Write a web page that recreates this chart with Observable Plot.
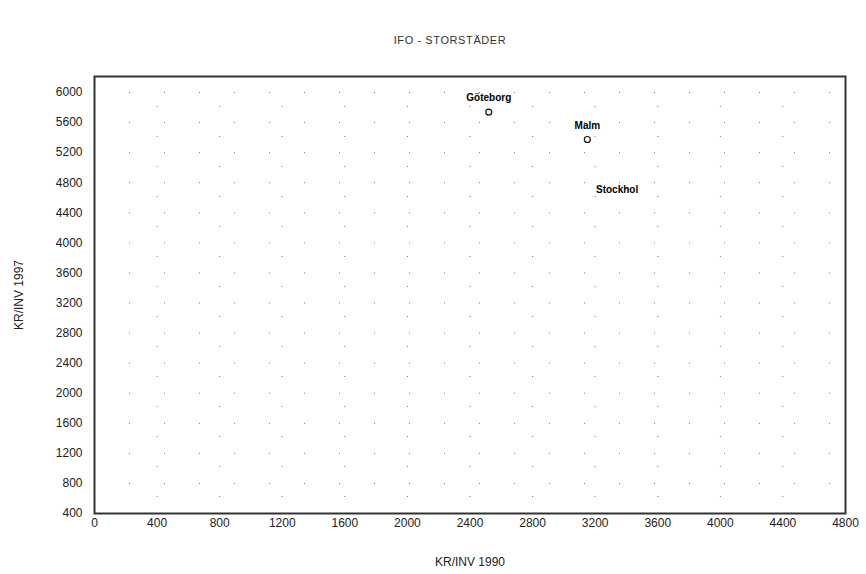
<!DOCTYPE html>
<html>
<head>
<meta charset="utf-8">
<script src="https://cdn.jsdelivr.net/npm/d3@7"></script>
<script src="https://cdn.jsdelivr.net/npm/@observablehq/plot@0.6"></script>
<style>
  body { margin: 0; background: #fff; font-family: "Liberation Sans", Arial, sans-serif; }
  #title { height: 60px; width: 866px; text-align: center; box-sizing: border-box; padding-top: 33px; padding-left: 34px;
           font-size: 11px; letter-spacing: 0.6px; color: #333; line-height: 14px; }
</style>
</head>
<body>
<div id="title">IFO - STORSTÄDER</div>
<div id="chart"></div>
<script>
const cities = ["Göteborg", "Malm", "Stockhol"];
const kr1990 = [2520, 3150, 3340];
const kr1997 = [5740, 5375, 4520];
const showMarker = [true, true, false];
const xTicks = [0, 400, 800, 1200, 1600, 2000, 2400, 2800, 3200, 3600, 4000, 4400, 4800];
const yTicks = [400, 800, 1200, 1600, 2000, 2400, 2800, 3200, 3600, 4000, 4400, 4800, 5200, 5600, 6000];

const data = cities.map((c, i) => ({name: c, x: kr1990[i], y: kr1997[i], marker: showMarker[i]}));

const plot = Plot.plot({
  width: 866,
  height: 514,
  marginLeft: 94,
  marginRight: 21,
  marginTop: 16,
  marginBottom: 61,
  style: {fontFamily: "Liberation Sans, Arial, sans-serif", fontSize: "12px", color: "#222", background: "#fff"},
  x: {domain: [0, 4800], ticks: xTicks, label: null},
  y: {domain: [400, 6213], ticks: yTicks, label: null},
  marks: [
    Plot.gridX(xTicks.slice(1, -1), {stroke: "#777", strokeOpacity: 1, strokeDasharray: "1,29"}),
    Plot.gridY(yTicks.slice(1), {stroke: "#777", strokeOpacity: 1, strokeDasharray: "1,34"}),
    Plot.axisX(xTicks, {tickSize: 0, tickPadding: 5, fontSize: 12, tickFormat: d => String(d), label: "KR/INV 1990", labelAnchor: "center", labelArrow: "none", labelOffset: 52}),
    Plot.axisY(yTicks, {tickSize: 0, tickPadding: 12, fontSize: 12, tickFormat: d => String(d), label: "KR/INV 1997", labelAnchor: "center", labelArrow: "none", labelOffset: 80}),
    Plot.frame({stroke: "#333", strokeWidth: 2}),
    Plot.dot(data.filter(d => d.marker), {x: "x", y: "y", r: 3, stroke: "#111", strokeWidth: 1.2, fill: "white"}),
    Plot.text(data, {x: "x", y: "y", text: "name", dy: -14, fontSize: 10, fontWeight: "bold", fill: "#000"})
  ]
});
document.getElementById("chart").appendChild(plot);
</script>
</body>
</html>
